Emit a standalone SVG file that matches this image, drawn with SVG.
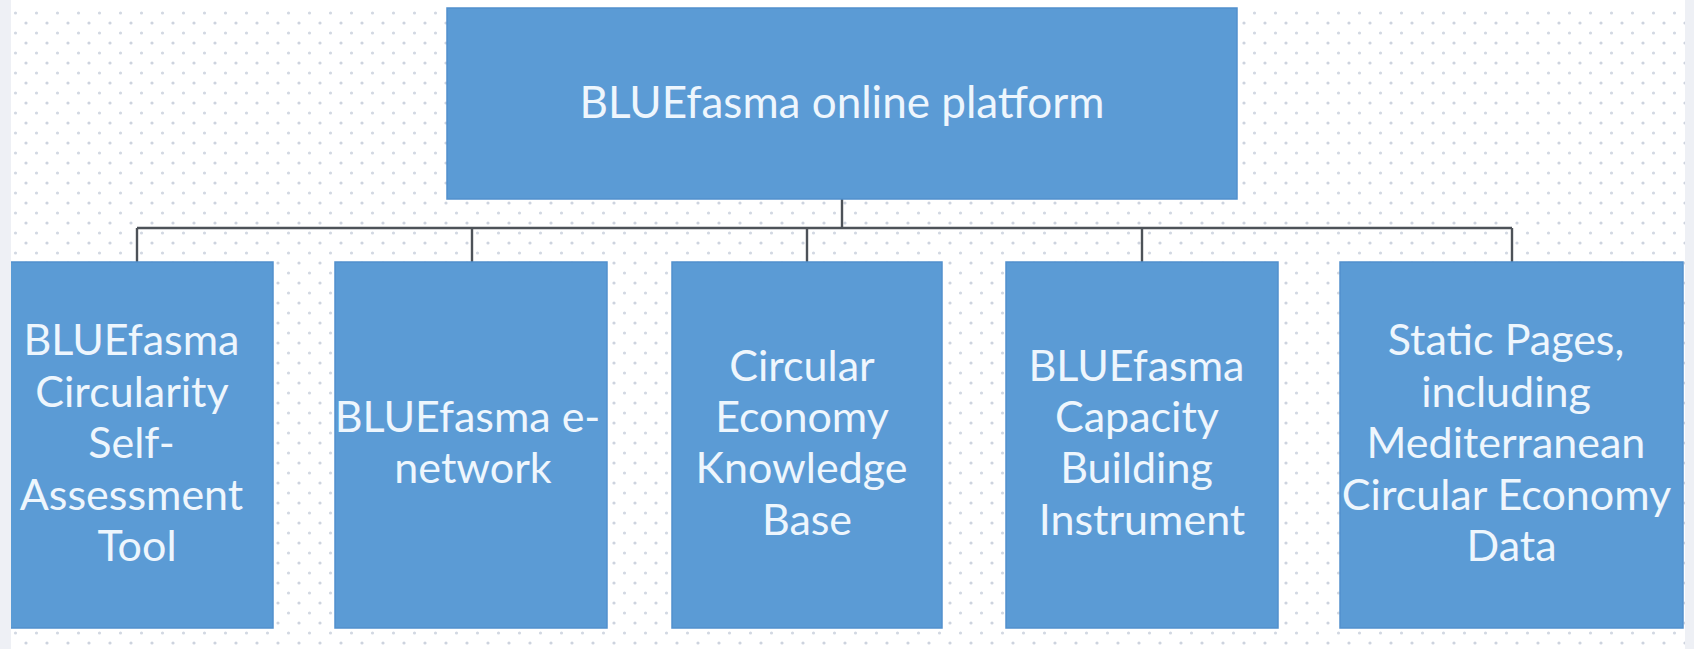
<svg xmlns="http://www.w3.org/2000/svg" width="1694" height="649" viewBox="0 0 1694 649">
  <defs>
    <pattern id="dots" patternUnits="userSpaceOnUse" width="21" height="20">
      <circle cx="5" cy="3" r="1.6" fill="#cdd3de"/>
      <circle cx="15.5" cy="13" r="1.6" fill="#d2d8e2"/>
    </pattern>
  </defs>
  <style>
    .box { fill: #5b9bd5; stroke: #5290cd; stroke-width: 1.5; }
    .lbl { font-family: Lato, "Liberation Sans", sans-serif; fill: #eef6fd; text-anchor: middle; }
    .top { font-size: 44px; }
    .sub { font-size: 43px; }
    .conn { stroke: #4d5258; stroke-width: 2.4; fill: none; }
  </style>
  <rect x="0" y="0" width="1694" height="649" fill="#ffffff"/>
  <rect x="0" y="8" width="1694" height="641" fill="url(#dots)"/>

  <g id="connectors">
    <line class="conn" x1="842" y1="199" x2="842" y2="228"/>
    <line class="conn" x1="137" y1="228" x2="1512" y2="228"/>
    <line class="conn" x1="137" y1="228" x2="137" y2="262"/>
    <line class="conn" x1="472" y1="228" x2="472" y2="262"/>
    <line class="conn" x1="807" y1="228" x2="807" y2="262"/>
    <line class="conn" x1="1142" y1="228" x2="1142" y2="262"/>
    <line class="conn" x1="1512" y1="228" x2="1512" y2="262"/>
  </g>

  <g id="node-platform">
    <rect class="box" x="447" y="8" width="790" height="191"/>
    <text class="lbl top" x="842" y="118">BLUEfasma online platform</text>
  </g>

  <g id="node-self-assessment">
    <rect class="box" x="0" y="262" width="273" height="366"/>
    <text class="lbl sub">
      <tspan x="137" y="355">BLUEfasma</tspan>
      <tspan x="137" y="407">Circularity</tspan>
      <tspan x="137" y="458">Self-</tspan>
      <tspan x="137" y="510">Assessment</tspan>
      <tspan x="137" y="561">Tool</tspan>
    </text>
  </g>

  <g id="node-e-network">
    <rect class="box" x="335" y="262" width="272" height="366"/>
    <text class="lbl sub">
      <tspan x="473" y="432">BLUEfasma e-</tspan>
      <tspan x="473" y="483">network</tspan>
    </text>
  </g>

  <g id="node-knowledge-base">
    <rect class="box" x="672" y="262" width="270" height="366"/>
    <text class="lbl sub">
      <tspan x="807" y="381">Circular</tspan>
      <tspan x="807" y="432">Economy</tspan>
      <tspan x="807" y="483">Knowledge</tspan>
      <tspan x="807" y="535">Base</tspan>
    </text>
  </g>

  <g id="node-capacity-building">
    <rect class="box" x="1006" y="262" width="272" height="366"/>
    <text class="lbl sub">
      <tspan x="1142" y="381">BLUEfasma</tspan>
      <tspan x="1142" y="432">Capacity</tspan>
      <tspan x="1142" y="483">Building</tspan>
      <tspan x="1142" y="535">Instrument</tspan>
    </text>
  </g>

  <g id="node-static-pages">
    <rect class="box" x="1340" y="262" width="343" height="366"/>
    <text class="lbl sub">
      <tspan x="1511.5" y="355">Static Pages,</tspan>
      <tspan x="1511.5" y="407">including</tspan>
      <tspan x="1511.5" y="458">Mediterranean</tspan>
      <tspan x="1511.5" y="510">Circular Economy</tspan>
      <tspan x="1511.5" y="561">Data</tspan>
    </text>
  </g>

  <rect x="0" y="0" width="11" height="649" fill="#eef0f5"/>
  <rect x="1685" y="0" width="9" height="649" fill="#eef0f5"/>
</svg>
